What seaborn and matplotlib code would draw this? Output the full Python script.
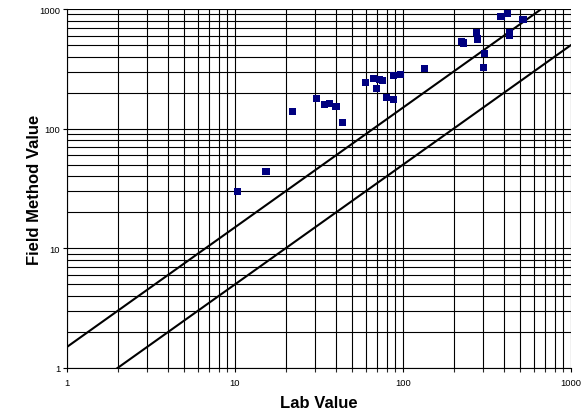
import numpy as np
import pandas as pd
import matplotlib
matplotlib.use("Agg")
import matplotlib.pyplot as plt
import matplotlib.ticker as mticker
import seaborn as sns

lab_values = [10.4, 15.3, 21.9, 30.6, 34.2, 36.6, 39.9, 43.8, 60, 66.9, 69.7, 72.7,
              75.7, 80, 88, 88, 96.9, 134.6, 222, 230, 274.6, 278.5, 306, 303,
              383, 420, 432, 432, 518]
field_values = [29.6, 44, 138, 178, 160, 161, 152, 112, 242, 261, 215, 256,
                251, 181, 277, 174, 282, 316, 535, 520, 637, 561, 428, 327,
                861, 912, 637, 597, 824]

# Reference lines y = k * x
line_x = [1, 1000]
ratios = [1.5, 0.5]

sns.set_style("white")
plt.rcParams['font.family'] = ['Liberation Sans', 'DejaVu Sans']

fig = plt.figure(figsize=(5.82, 4.14), dpi=100)
ax = fig.add_axes([67 / 582, 1 - 369 / 414, 504 / 582, 359 / 414])

df = pd.DataFrame({'lab': lab_values, 'field': field_values})

for k in ratios:
    ref = pd.DataFrame({'x': line_x, 'y': [k * v for v in line_x]})
    sns.lineplot(data=ref, x='x', y='y', ax=ax, color='black', lw=1.5, zorder=3)

sns.scatterplot(data=df, x='lab', y='field', ax=ax, marker='s', s=26,
                color='#000080', edgecolor='none', zorder=4)

ax.set_xscale('log')
ax.set_yscale('log')
ax.set_xlim(1, 1000)
ax.set_ylim(1, 1000)

ax.xaxis.set_major_locator(mticker.LogLocator(base=10, numticks=10))
ax.yaxis.set_major_locator(mticker.LogLocator(base=10, numticks=10))
ax.xaxis.set_minor_locator(mticker.LogLocator(base=10, subs=np.arange(2, 10), numticks=20))
ax.yaxis.set_minor_locator(mticker.LogLocator(base=10, subs=np.arange(2, 10), numticks=20))
fmt = mticker.FuncFormatter(lambda v, p: f"{v:g}")
ax.xaxis.set_major_formatter(fmt)
ax.yaxis.set_major_formatter(fmt)
ax.xaxis.set_minor_formatter(mticker.NullFormatter())
ax.yaxis.set_minor_formatter(mticker.NullFormatter())

ax.grid(True, which='both', color='black', lw=0.8)
ax.set_axisbelow(True)

ax.tick_params(axis='both', which='major', labelsize=6.8, length=3, width=0.8,
               direction='out', colors='black')
ax.tick_params(axis='x', which='major', pad=4.5, bottom=True)
ax.tick_params(axis='y', which='major', pad=2, left=True)
ax.tick_params(axis='x', which='minor', length=3, width=0.8, direction='out', bottom=True)
ax.tick_params(axis='y', which='minor', length=0)

for side in ['top', 'right']:
    ax.spines[side].set_visible(False)
for side in ['left', 'bottom']:
    ax.spines[side].set_color('black')
    ax.spines[side].set_linewidth(0.8)

ax.set_xlabel("Lab Value", fontsize=12, fontweight='bold', color='black')
ax.set_ylabel("Field Method Value", fontsize=12, fontweight='bold', color='black')
ax.xaxis.set_label_coords(0.5, -0.075)
ax.yaxis.set_label_coords(-0.05, 0.5)

fig.savefig("out.png", dpi=100)
